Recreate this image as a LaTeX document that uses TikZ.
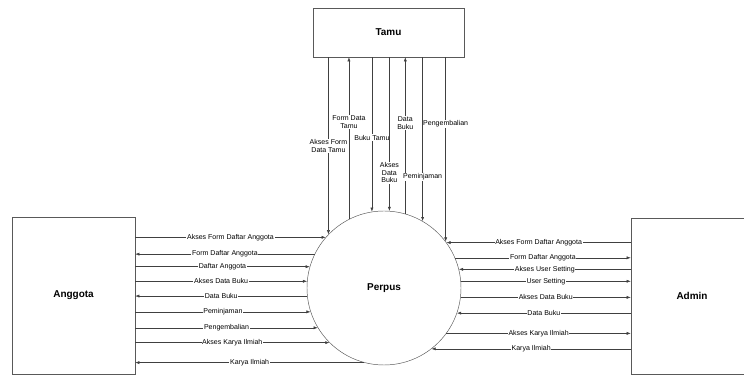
\documentclass[tikz,border=0pt]{standalone}
\usepackage{fontspec}
\setmainfont{Liberation Sans}
\usetikzlibrary{arrows.meta}

\begin{document}
\begin{tikzpicture}[x=0.03cm, y=-0.03cm, >={Latex[length=3.5pt,width=2.6pt]},
	entity/.style={draw=black!65, fill=white, font=\bfseries\fontsize{8.5}{10}\selectfont},
	flow/.style={draw=black!75, line width=0.4pt},
	lbl/.style={fill=white, inner sep=0.6pt, align=center, font=\fontsize{6}{6.6}\selectfont}]
	\useasboundingbox (0, 0) rectangle (744, 376);
	\node[entity, minimum width=4.53cm, minimum height=1.47cm] (tamu) at (388.5, 32.5) {Tamu};
	\node[entity, minimum width=3.69cm, minimum height=4.71cm] (anggota) at (73.5, 295.5) {Anggota};
	\node[entity, minimum width=3.66cm, minimum height=4.68cm] (admin) at (692, 296) {Admin};
	\node[entity, circle, minimum size=4.62cm] (perpus) at (384, 288) {Perpus};
	% Tamu - Perpus
	\draw[flow, ->] (tamu.south -| perpus.136.7) -- node[lbl] {Akses Form\\Data Tamu} (perpus.136.7);
	\draw[flow, <-] (tamu.south -| perpus.117.9) -- node[lbl, pos=0.4] {Form Data\\Tamu} (perpus.117.9);
	\draw[flow, ->] (tamu.south -| perpus.99) -- node[lbl, pos=0.52] {Buku Tamu} (perpus.99);
	\draw[flow, ->] (tamu.south -| perpus.86.3) -- node[lbl, pos=0.75] {Akses\\Data\\Buku} (perpus.86.3);
	\draw[flow, <-] (tamu.south -| perpus.74.2) -- node[lbl, pos=0.42] {Data\\Buku} (perpus.74.2);
	\draw[flow, ->] (tamu.south -| perpus.60.4) -- node[lbl, pos=0.73] {Peminjaman} (perpus.60.4);
	\draw[flow, ->] (tamu.south -| perpus.37.6) -- node[lbl, pos=0.36] {Pengembalian} (perpus.37.6);
	% Anggota - Perpus
	\draw[flow, ->] (anggota.east |- perpus.139.5) -- node[lbl] {Akses Form Daftar Anggota} (perpus.139.5);
	\draw[flow, <-] (anggota.east |- perpus.154.6) -- node[lbl] {Form Daftar Anggota} (perpus.154.6);
	\draw[flow, ->] (anggota.east |- perpus.164.9) -- node[lbl] {Daftar Anggota} (perpus.164.9);
	\draw[flow, ->] (anggota.east |- perpus.175.5) -- node[lbl] {Akses Data Buku} (perpus.175.5);
	\draw[flow, <-] (anggota.east |- perpus.186.7) -- node[lbl] {Data Buku} (perpus.186.7);
	\draw[flow, ->] (anggota.east |- perpus.198.2) -- node[lbl] {Peminjaman} (perpus.198.2);
	\draw[flow, ->] (anggota.east |- perpus.211.3) -- node[lbl] {Pengembalian} (perpus.211.3);
	\draw[flow, ->] (anggota.east |- perpus.225.6) -- node[lbl] {Akses Karya Ilmiah} (perpus.225.6);
	\draw[flow, <-] (anggota.east |- perpus.255) -- node[lbl] {Karya Ilmiah} (perpus.255);
	% Perpus - Admin
	\draw[flow, <-] (perpus.36.7) -- node[lbl] {Akses Form Daftar Anggota} (admin.west |- perpus.36.7);
	\draw[flow, ->] (perpus.23.7) -- node[lbl] {Form Daftar Anggota} (admin.west |- perpus.23.7);
	\draw[flow, <-] (perpus.14.3) -- node[lbl] {Akses User Setting} (admin.west |- perpus.14.3);
	\draw[flow, ->] (perpus.5.2) -- node[lbl] {User Setting} (admin.west |- perpus.5.2);
	\draw[flow, ->] (perpus.353.3) -- node[lbl] {Akses Data Buku} (admin.west |- perpus.353.3);
	\draw[flow, <-] (perpus.341.1) -- node[lbl] {Data Buku} (admin.west |- perpus.341.1);
	\draw[flow, ->] (perpus.324.2) -- node[lbl] {Akses Karya Ilmiah} (admin.west |- perpus.324.2);
	\draw[flow, <-] (perpus.308.8) -- node[lbl] {Karya Ilmiah} (admin.west |- perpus.308.8);
\end{tikzpicture}
\end{document}
